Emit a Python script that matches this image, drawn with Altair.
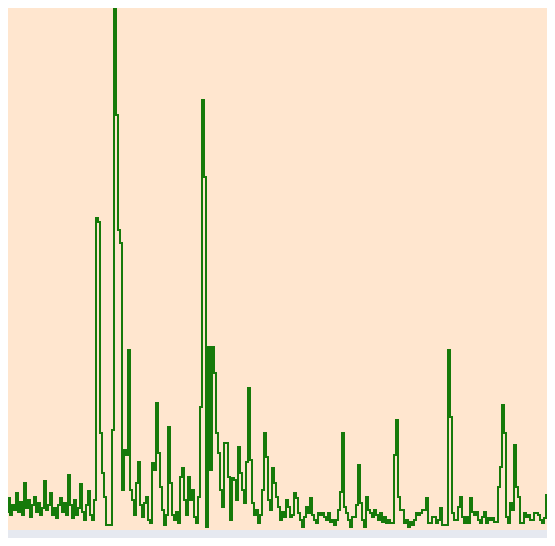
import altair as alt
import pandas as pd

# XRD-like scan: uniform 2-theta grid, intensities
start_2theta = 10.0
step_2theta = 0.2

counts = [
    25, 18, 32, 15, 25, 20, 37, 18, 28, 15, 47, 22, 30, 13, 25, 33, 18, 27, 15, 22,
    49, 20, 25, 37, 15, 22, 12, 25, 32, 18, 27, 15, 55, 25, 12, 30, 15, 22, 46, 18,
    10, 25, 39, 15, 10, 30, 312, 308, 97, 57, 33, 5, 5, 5, 100, 524, 415, 300, 287, 40,
    80, 75, 180, 40, 30, 15, 47, 68, 25, 13, 27, 33, 10, 7, 67, 60, 127, 77, 43, 20,
    5, 15, 103, 47, 15, 10, 18, 7, 53, 62, 30, 15, 53, 30, 40, 13, 7, 33, 123, 430,
    353, 3, 183, 60, 183, 157, 97, 77, 40, 23, 87, 87, 53, 10, 52, 50, 30, 83, 57, 40,
    27, 68, 142, 70, 27, 15, 20, 7, 15, 40, 97, 73, 30, 20, 62, 47, 33, 23, 10, 18,
    13, 30, 23, 13, 15, 37, 32, 17, 10, 3, 13, 23, 17, 32, 15, 10, 7, 17, 15, 17,
    13, 10, 17, 8, 10, 5, 10, 20, 38, 97, 23, 17, 10, 3, 13, 13, 25, 65, 27, 10,
    3, 33, 20, 17, 13, 20, 15, 10, 17, 8, 13, 7, 10, 7, 7, 75, 110, 33, 20, 20,
    7, 10, 3, 8, 5, 10, 17, 15, 17, 20, 20, 32, 7, 7, 13, 13, 7, 10, 22, 5,
    5, 5, 180, 113, 17, 10, 10, 23, 33, 13, 7, 13, 7, 32, 18, 15, 18, 10, 7, 13,
    18, 7, 12, 10, 12, 8, 8, 43, 63, 125, 97, 13, 7, 27, 20, 85, 43, 33, 7, 7,
    17, 13, 15, 10, 10, 17, 17, 15, 10, 7, 12, 35, 20, 10, 25, 47,
]

two_theta = [round(start_2theta + step_2theta * i, 2) for i in range(len(counts))]
df = pd.DataFrame({"two_theta": two_theta, "counts": counts})

chart = (
    alt.Chart(df)
    .mark_line(interpolate="step-after", color="#167a0a", strokeWidth=2, clip=True)
    .encode(
        x=alt.X("two_theta:Q", axis=None,
                scale=alt.Scale(domain=[10.4, 64.3], nice=False, zero=False)),
        y=alt.Y("counts:Q", axis=None,
                scale=alt.Scale(domain=[0, 522], nice=False)),
    )
    .properties(
        width=539,
        height=522,
        background="#e6e9f0",
        padding={"left": 0, "top": 0, "right": 0, "bottom": 8},
    )
    .configure_view(fill="#ffe6cf", stroke=None)
)

chart.save("out.html", embed_options={"renderer": "svg", "actions": False})
